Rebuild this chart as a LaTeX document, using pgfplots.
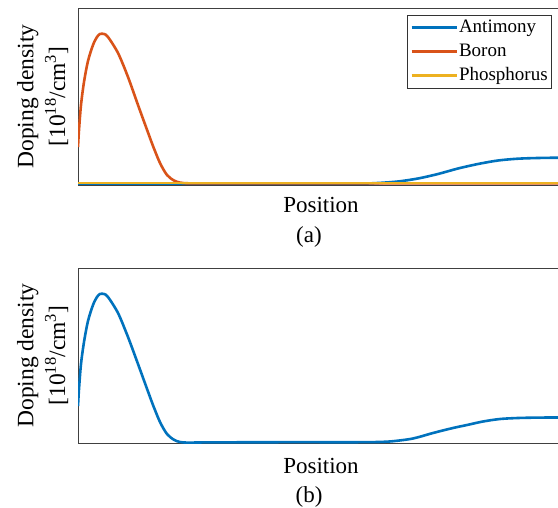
\documentclass[border=0pt]{standalone}
\usepackage{pgfplots}
\pgfplotsset{compat=1.18}
\usepackage{fontspec}
\setmainfont{Liberation Serif}
\definecolor{mblue}{rgb}{0,0.447,0.741}
\definecolor{morange}{rgb}{0.85,0.325,0.098}
\definecolor{myellow}{rgb}{0.929,0.694,0.125}
\begin{document}
\begin{tikzpicture}
\path[use as bounding box] (0pt,0pt) rectangle (558pt,-508pt);
\pgfplotsset{
  myax/.style={
    scale only axis, width=480pt, xmin=0, xmax=480, ymin=0,
    xtick=\empty, ytick=\empty,
    axis line style={black!75, line width=0.6pt},
  },
  cv/.style={line width=2.6pt, smooth, tension=0.5, no markers},
}
% Top axis
\begin{axis}[myax, at={(78pt,-185pt)}, anchor=south west, height=177pt, ymax=177,
  legend style={at={(1,1)}, anchor=north east, xshift=-6pt, yshift=-7pt,
    font=\fontsize{19}{22}\selectfont, draw=black!80, line width=0.6pt,
    inner xsep=3pt, inner ysep=2.5pt, row sep=4pt,
    nodes={inner sep=1pt, text height=14pt, text depth=4pt}},
  legend cell align=left,
  legend image code/.code={\draw[#1, line width=2.6pt] (0pt,0pt) -- (45pt,0pt);},
]
\addplot[mblue, cv] coordinates {
(0,0.7) (100,0.7) (200,0.7) (250,0.7) (280,1.2) (300,2) (320,3.5) (340,6.5) (360,11)
(380,16.5) (400,21) (420,24.5) (440,26.3) (460,27) (480,27.3)};
\addlegendentry{Antimony}
\addplot[morange, cv] coordinates {
(0,38) (1,55) (3,80) (6,103) (10,124) (15,140) (19,148) (22,151) (26,151) (30,148) (40,132) (50,108) (60,80) (68,58)
(75,39) (82,22) (89,10) (96,4.5) (102,2.4) (110,1.7) (130,1.6) (200,1.6) (300,1.6) (480,1.6)};
\addlegendentry{Boron}
\addplot[myellow, cv] coordinates {(0,1.8) (240,1.8) (480,1.8)};
\addlegendentry{Phosphorus}
\end{axis}
% Bottom axis
\begin{axis}[myax, at={(78pt,-443pt)}, anchor=south west, height=175pt, ymax=175]
\addplot[mblue, cv] coordinates {
(0,37) (1,54) (3,79) (6,101) (10,122) (15,138) (19,146) (22,149) (26,149) (30,146) (40,130) (50,106) (60,79) (68,57)
(75,38) (82,21) (89,9) (96,3.2) (102,1) (110,0.4) (130,0.6) (200,0.8) (280,0.8)
(300,1) (315,1.8) (335,4.5) (355,10) (375,15) (389,18) (405,21.5) (422,24) (440,25)
(460,25.4) (480,25.5)};
\end{axis}
% Labels
\node[anchor=base, font=\fontsize{23}{26}\selectfont] at (321pt,-213pt) {Position};
\node[anchor=base, font=\fontsize{23}{26}\selectfont] at (309pt,-243pt) {(a)};
\node[anchor=base, font=\fontsize{23}{26}\selectfont] at (321pt,-473pt) {Position};
\node[anchor=base, font=\fontsize{23}{26}\selectfont] at (309pt,-503pt) {(b)};
\foreach \yc in {96.5,355.5}{
  \node[anchor=base, rotate=90, font=\fontsize{23.5}{26}\selectfont, inner sep=0pt] at (33.5pt,-\yc pt) {Doping density};
  \node[anchor=base, rotate=90, font=\fontsize{23.5}{26}\selectfont, inner sep=0pt] at (65pt,-\yc pt) {[10\textsuperscript{18}/cm\textsuperscript{3}]};
}
\end{tikzpicture}
\end{document}
